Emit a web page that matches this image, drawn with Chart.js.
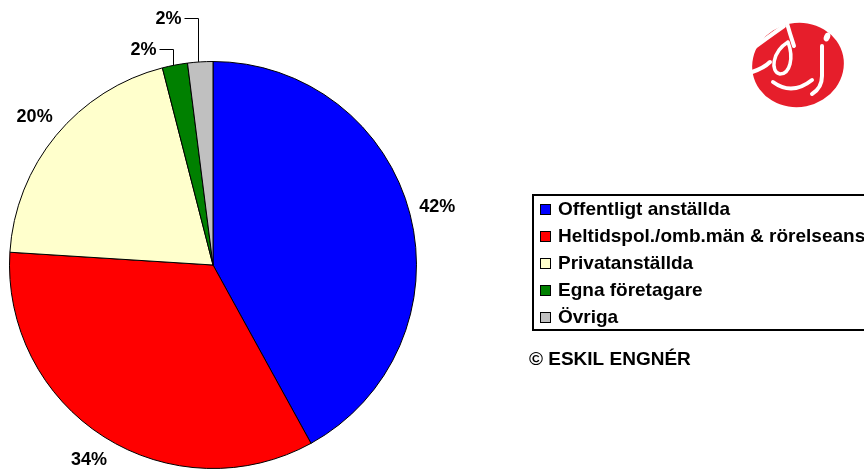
<!DOCTYPE html>
<html>
<head>
<meta charset="utf-8">
<script src="https://cdn.jsdelivr.net/npm/chart.js@4"></script>
<style>
  body { margin: 0; background: #fff; }
  #wrap { position: relative; width: 864px; height: 471px; overflow: hidden; }
  #chart { position: absolute; left: 0; top: 0; }
  #logo { position: absolute; left: 740px; top: 12px; }
</style>
</head>
<body>
<div id="wrap">
  <canvas id="chart" width="864" height="471"></canvas>
  <canvas id="logo" width="110" height="100"></canvas>
</div>
<script>
const labels = ["Offentligt anställda", "Heltidspol./omb.män & rörelseanställda", "Privatanställda", "Egna företagare", "Övriga"];
const shares = [42, 34, 20, 2, 2];
const colors = ["#0000ff", "#ff0000", "#ffffcc", "#008000", "#c0c0c0"];
const credit = "© ESKIL ENGNÉR";

// percent labels, small slices get a leader line going up
const pieLabels = {
  id: "pieLabels",
  afterDatasetsDraw(chart, args, opts) {
    const ctx = chart.ctx;
    const arcs = chart.getDatasetMeta(0).data;
    ctx.save();
    ctx.font = opts.font;
    ctx.fillStyle = "#000";
    ctx.strokeStyle = "#000";
    ctx.lineWidth = 1;
    ctx.textBaseline = "middle";
    arcs.forEach((arc, i) => {
      const p = arc.getProps(["x", "y", "startAngle", "endAngle", "outerRadius"], true);
      const mid = (p.startAngle + p.endAngle) / 2;
      const text = shares[i] + "%";
      const rise = opts.callouts[i];
      if (rise) {
        const ax = Math.round(p.x + Math.cos(mid) * p.outerRadius) - 1.5;
        const ay = p.y + Math.sin(mid) * p.outerRadius;
        const ey = Math.round(ay - rise) + 0.5;
        ctx.beginPath();
        ctx.moveTo(ax, ay);
        ctx.lineTo(ax, ey);
        ctx.lineTo(ax - 14, ey);
        ctx.stroke();
        ctx.textAlign = "right";
        ctx.fillText(text, ax - 17, ey + 1);
      } else {
        const r = p.outerRadius + opts.offset;
        ctx.textAlign = "center";
        ctx.fillText(text, p.x + Math.cos(mid) * r, p.y + Math.sin(mid) * r);
      }
    });
    ctx.restore();
  }
};

// boxed legend on the right + credit line
const boxLegend = {
  id: "boxLegend",
  afterDraw(chart, args, opts) {
    const ctx = chart.ctx;
    const ds = chart.data.datasets[0];
    const n = chart.data.labels.length;
    ctx.save();
    ctx.lineWidth = 2;
    ctx.strokeStyle = "#000";
    ctx.strokeRect(opts.left, opts.top, 400, opts.rowHeight * n);
    ctx.font = opts.font;
    ctx.textBaseline = "middle";
    ctx.textAlign = "left";
    chart.data.labels.forEach((lab, i) => {
      const cy = Math.round(opts.top + opts.rowHeight * (i + 0.5));
      ctx.fillStyle = ds.backgroundColor[i];
      ctx.fillRect(opts.left + 7, cy - 5, 11, 11);
      ctx.lineWidth = 1;
      ctx.strokeRect(opts.left + 7.5, cy - 4.5, 10, 10);
      ctx.fillStyle = "#000";
      ctx.fillText(lab, opts.left + 25, cy + 1);
    });
    ctx.fillText(credit, opts.creditX, opts.creditY);
    ctx.restore();
  }
};

new Chart(document.getElementById("chart"), {
  type: "pie",
  data: {
    labels: labels,
    datasets: [{
      data: shares,
      backgroundColor: colors,
      borderColor: "#000",
      borderWidth: 1
    }]
  },
  options: {
    responsive: false,
    animation: false,
    layout: { padding: { left: 9, top: 61, right: 447, bottom: 2 } },
    plugins: {
      legend: { display: false },
      tooltip: { enabled: false },
      pieLabels: {
        font: "bold 18px 'Liberation Sans', Arial, sans-serif",
        offset: 28,
        callouts: [0, 0, 0, 16, 44]
      },
      boxLegend: {
        font: "bold 19px 'Liberation Sans', Arial, sans-serif",
        left: 533,
        top: 195,
        rowHeight: 27,
        creditX: 529,
        creditY: 360
      }
    }
  },
  plugins: [pieLabels, boxLegend]
});

// party rose logo, rough
function drawLogo() {
  const c = document.getElementById("logo").getContext("2d");
  c.fillStyle = "#e61e2b";
  c.beginPath();
  c.ellipse(58, 53, 46, 42, -0.2, 0, Math.PI * 2);
  c.fill();
  c.strokeStyle = "#fff";
  c.lineCap = "round";
  c.lineWidth = 4;
  // petal cuts
  c.beginPath();
  c.moveTo(8, 40);
  c.quadraticCurveTo(24, 28, 44, 14);
  c.stroke();
  c.beginPath();
  c.moveTo(12, 60);
  c.quadraticCurveTo(24, 56, 30, 50);
  c.stroke();
  c.beginPath();
  c.moveTo(46, 8);
  c.quadraticCurveTo(50, 22, 54, 34);
  c.stroke();
  // loop in the middle
  c.lineWidth = 3.5;
  c.beginPath();
  c.moveTo(48, 30);
  c.bezierCurveTo(32, 40, 30, 60, 40, 62);
  c.bezierCurveTo(50, 62, 54, 46, 48, 30);
  c.stroke();
  // smile
  c.lineWidth = 4;
  c.beginPath();
  c.moveTo(33, 70);
  c.quadraticCurveTo(52, 84, 72, 68);
  c.stroke();
  // j stroke and dot
  c.beginPath();
  c.moveTo(82, 34);
  c.lineTo(82, 64);
  c.quadraticCurveTo(82, 76, 72, 82);
  c.stroke();
  c.fillStyle = "#fff";
  c.beginPath();
  c.ellipse(87, 25, 3, 4.5, 0.4, 0, Math.PI * 2);
  c.fill();
}
drawLogo();
</script>
</body>
</html>
